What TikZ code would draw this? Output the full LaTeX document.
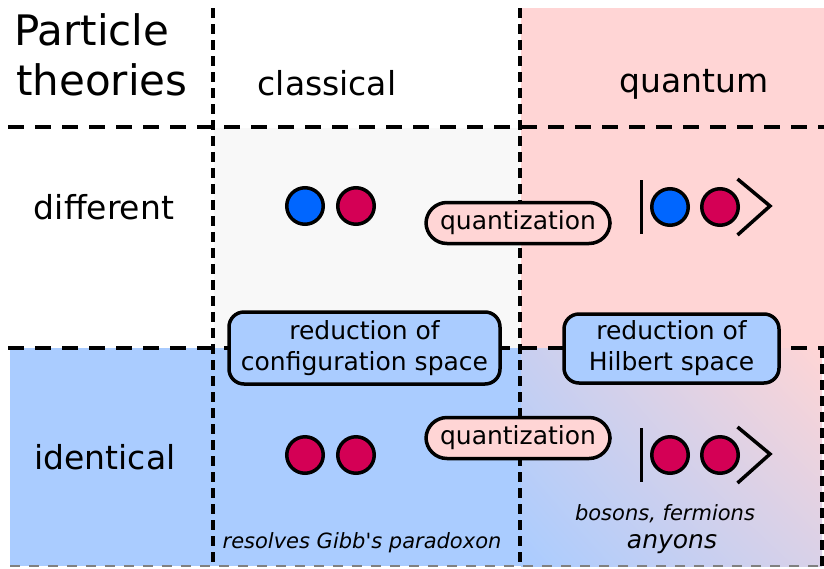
\documentclass[tikz,border=0pt]{standalone}
\usepackage{fontspec}
\setmainfont{DejaVu Sans}[Ligatures=TeXOff]
\usepackage{tikz}
\usetikzlibrary{shadings}
\definecolor{qpink}{HTML}{FFD5D5}
\definecolor{cblue}{HTML}{AACCFF}
\definecolor{cgray}{HTML}{F8F8F8}
\definecolor{pblue}{HTML}{0066FF}
\definecolor{pred}{HTML}{D40055}
\def\KetPair#1#2#3#4{
    \node[particle,fill=#3] (#1-1) at (670,#2) {};
    \node[particle,fill=#4] (#1-2) at (720,#2) {};
    \draw[ketline] ([xshift=-8.5pt,yshift=27pt]#1-1.west) -- ([xshift=-8.5pt,yshift=-27pt]#1-1.west);
    \draw[ketline] ([xshift=-2.5pt,yshift=28pt]#1-2.east) -- ([xshift=30pt,yshift=1pt]#1-2.east) -- ([xshift=-2.5pt,yshift=-28pt]#1-2.east);
}
\begin{document}
\begin{tikzpicture}[x=1pt,y=-1pt,
    hgrid/.style={line width=3.5pt,dash pattern=on 16pt off 11pt},
    vgrid/.style={line width=3.5pt,dash pattern=on 10pt off 6pt},
    particle/.style={circle,draw,line width=3.5pt,minimum size=36.5pt,inner sep=0pt},
    ketline/.style={line width=3.5pt},
    quant/.style={draw,line width=3.5pt,fill=qpink,rounded corners=21pt,minimum width=184pt,minimum height=41pt,font=\fontsize{25}{31}\selectfont},
    reduce/.style={draw,line width=3.5pt,fill=cblue,rounded corners=15pt,align=center,minimum height=72pt,font=\fontsize{25}{31}\selectfont},
    head/.style={anchor=base,inner sep=0pt,font=\fontsize{33}{40}\selectfont},
    note/.style={anchor=base,inner sep=0pt,font=\fontsize{21}{25}\selectfont\itshape}]
    \useasboundingbox (0,0) rectangle (824,568);
    % cells
    \fill[qpink] (521,8) rectangle (824,348);
    \fill[cgray] (214,128) rectangle (520,348);
    \fill[cblue] (10,348) rectangle (521,566);
    \shade[lower left=cblue,upper right=qpink,upper left=cblue!65!qpink,lower right=cblue!45!qpink] (521,348) rectangle (822,566);
    % grid
    \draw[hgrid] (8,127) -- (824,127);
    \draw[hgrid] (8,348) -- (824,348);
    \draw[vgrid] (213,8) -- (213,566);
    \draw[vgrid] (520,8) -- (520,566);
    \draw[vgrid] (822,348) -- (822,566);
    \draw[gray,line width=2pt,dash pattern=on 10pt off 9pt] (10,566) -- (822,566);
    % headings
    \node[anchor=base west,inner sep=0pt,font=\fontsize{42}{50}\selectfont] (title-1) at (14,45) {Particle};
    \node[anchor=base west,inner sep=0pt,font=\fontsize{42}{50}\selectfont] (title-2) at (16,95) {theories};
    \node[head] (classical) at (327,95) {classical};
    \node[head] (quantum) at (694,92) {quantum};
    \node[head] (different) at (104,219) {different};
    \node[head] (identical) at (105,469) {identical};
    % particles
    \node[particle,fill=pblue] (cd-1) at (305,206) {};
    \node[particle,fill=pred] (cd-2) at (356,206) {};
    \node[particle,fill=pred] (ci-1) at (305,455) {};
    \node[particle,fill=pred] (ci-2) at (356,455) {};
    \KetPair{qd}{207}{pblue}{pred}
    \KetPair{qi}{455}{pred}{pred}
    % transitions
    \node[quant] (quant-d) at (518,223) {quantization};
    \node[quant] (quant-i) at (518,438) {quantization};
    \node[reduce,minimum width=271pt] (red-c) at (364.5,348) {reduction of\\configuration space};
    \node[reduce,minimum width=215pt,minimum height=69pt] (red-h) at (671.5,348.5) {reduction of\\Hilbert space};
    % remarks
    \node[note] (gibbs) at (362,548) {resolves Gibb's paradoxon};
    \node[note] (bosons) at (665,520) {bosons, fermions};
    \node[note,font=\fontsize{25}{30}\selectfont\itshape] (anyons) at (672,548) {anyons};
\end{tikzpicture}
\end{document}
